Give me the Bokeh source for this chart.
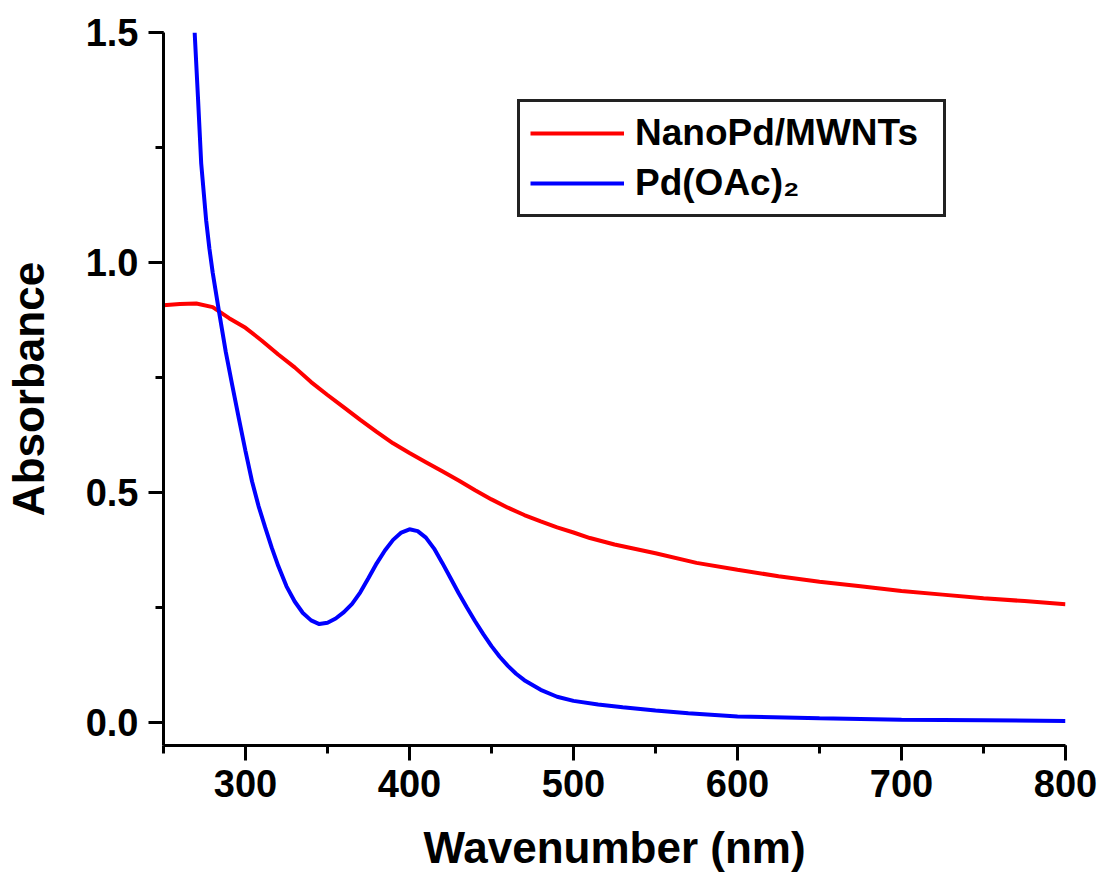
from bokeh.plotting import figure
from bokeh.models import Range1d, SingleIntervalTicker, NumeralTickFormatter
from bokeh.embed import file_html
from bokeh.resources import INLINE

# NanoPd/MWNTs spectrum
red_wl = [250, 260, 270, 280, 290, 300, 310, 320, 330, 340, 350, 360, 370, 380,
          390, 400, 410, 420, 430, 440, 450, 460, 470, 480, 490, 500, 510, 525,
          550, 575, 600, 625, 650, 675, 700, 725, 750, 775, 800]
red_abs = [0.907, 0.910, 0.911, 0.903, 0.879, 0.858, 0.830, 0.800, 0.772, 0.740,
           0.712, 0.685, 0.658, 0.632, 0.607, 0.586, 0.566, 0.546, 0.526, 0.505,
           0.485, 0.467, 0.451, 0.437, 0.424, 0.413, 0.401, 0.387, 0.368, 0.347,
           0.332, 0.318, 0.306, 0.296, 0.286, 0.278, 0.270, 0.264, 0.257]

# Pd(OAc)2 spectrum
blue_wl = [269, 271, 273, 276, 278, 280, 284, 288, 292, 296, 300, 304, 308, 312,
           316, 320, 325, 330, 335, 340, 345, 350, 355, 360, 365, 370, 375, 380,
           385, 390, 395, 400, 405, 410, 415, 420, 425, 430, 435, 440, 445, 450,
           455, 460, 465, 470, 480, 490, 500, 515, 530, 550, 570, 600, 650, 700,
           750, 800]
blue_abs = [1.500, 1.360, 1.215, 1.092, 1.030, 0.978, 0.890, 0.805, 0.732, 0.660,
            0.590, 0.524, 0.470, 0.424, 0.380, 0.340, 0.296, 0.263, 0.238, 0.222,
            0.214, 0.217, 0.226, 0.240, 0.258, 0.283, 0.314, 0.346, 0.374, 0.397,
            0.413, 0.420, 0.416, 0.402, 0.378, 0.347, 0.314, 0.281, 0.250, 0.220,
            0.192, 0.166, 0.143, 0.123, 0.106, 0.092, 0.071, 0.056, 0.047, 0.039,
            0.033, 0.026, 0.020, 0.013, 0.009, 0.006, 0.005, 0.003]

series_labels = ["NanoPd/MWNTs", "Pd(OAc)\u2082"]
x_title = "Wavenumber (nm)"
y_title = "Absorbance"

FONT = "Liberation Sans"

p = figure(width=1099, height=874, output_backend="svg", toolbar_location=None,
           x_range=Range1d(250, 800), y_range=Range1d(-0.05, 1.5),
           min_border_left=160, min_border_right=34, min_border_top=32,
           min_border_bottom=60)
p.outline_line_color = None
p.grid.visible = False
p.background_fill_color = "white"
p.border_fill_color = "white"

p.line(red_wl, red_abs, line_color="#FF0000", line_width=4, legend_label=series_labels[0])
p.line(blue_wl, blue_abs, line_color="#0000FF", line_width=4, legend_label=series_labels[1])

p.xaxis.ticker = SingleIntervalTicker(interval=100, num_minor_ticks=2)
p.yaxis.ticker = SingleIntervalTicker(interval=0.5, num_minor_ticks=2)
p.yaxis.formatter = NumeralTickFormatter(format="0.0")

for ax in (p.xaxis, p.yaxis):
    ax.axis_line_width = 3
    ax.axis_line_color = "black"
    ax.major_tick_line_width = 3
    ax.minor_tick_line_width = 3
    ax.major_tick_out = 15
    ax.major_tick_in = 0
    ax.minor_tick_out = 8
    ax.minor_tick_in = 0
    ax.major_label_text_font = FONT
    ax.major_label_text_font_style = "bold"
    ax.major_label_text_font_size = "38px"
    ax.major_label_text_color = "black"
    ax.axis_label_text_font = FONT
    ax.axis_label_text_font_style = "bold"
    ax.axis_label_text_font_size = "44px"
    ax.axis_label_text_color = "black"

p.xaxis.axis_label = x_title
p.yaxis.axis_label = y_title
p.xaxis.major_label_standoff = 9
p.yaxis.major_label_standoff = 10
p.xaxis.axis_label_standoff = 23
p.yaxis.axis_label_standoff = 30

lg = p.legend[0]
lg.location = (354, 528)
lg.label_text_font = FONT
lg.label_text_font_style = "bold"
lg.label_text_font_size = "37px"
lg.label_text_color = "black"
lg.glyph_width = 94
lg.glyph_height = 36
lg.label_standoff = 11
lg.label_width = 298
lg.padding = 10
lg.spacing = 8
lg.margin = 0
lg.border_line_color = "#222222"
lg.border_line_alpha = 1.0
lg.border_line_width = 3
lg.background_fill_alpha = 1.0

open("out.html", "w").write(file_html(p, INLINE))
